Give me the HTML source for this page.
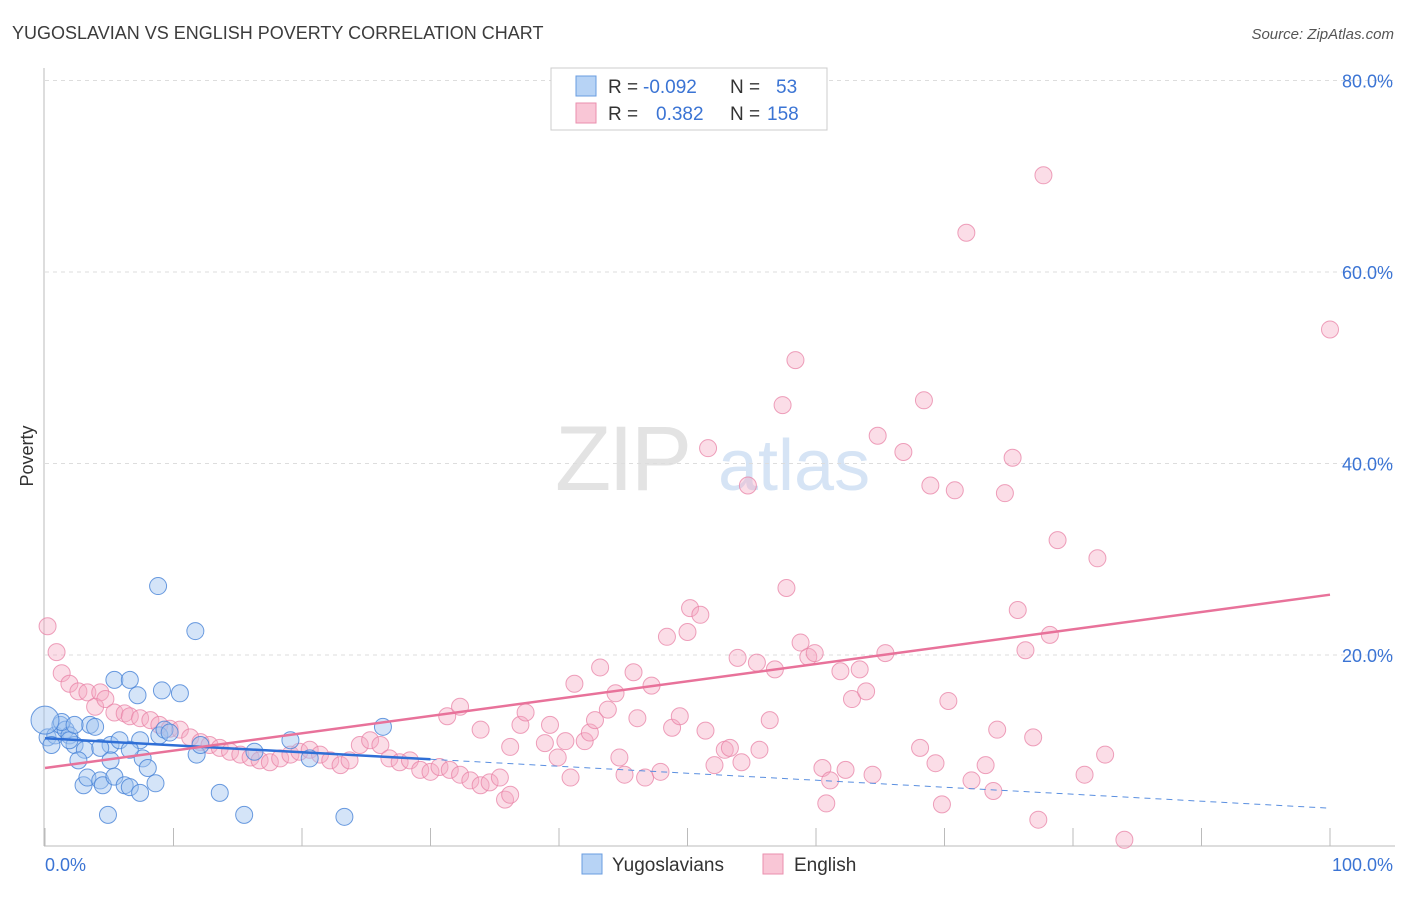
<!DOCTYPE html>
<html><head><meta charset="utf-8"><style>
body{margin:0;background:#fff;font-family:"Liberation Sans",sans-serif;}
svg text{font-family:"Liberation Sans",sans-serif;}
</style></head><body>
<svg width="1406" height="892" viewBox="0 0 1406 892" xmlns="http://www.w3.org/2000/svg">
<text x="12" y="39" font-size="18" fill="#3c3c3c">YUGOSLAVIAN VS ENGLISH POVERTY CORRELATION CHART</text>
<text x="1394" y="39" font-size="15" fill="#555" text-anchor="end" font-style="italic">Source: ZipAtlas.com</text>
<g>
<text x="555" y="490" font-size="92" fill="#e3e3e3" font-family="Liberation Serif" letter-spacing="-3">ZIP</text>
<text x="718" y="490" font-size="72" fill="#d6e4f5">atlas</text>
</g>
<g id="grid"></g>
<g id="axes"></g>
<g id="marks"></g>
<g id="trends"></g>
<text transform="translate(33,456) rotate(-90)" font-size="18" fill="#333" text-anchor="middle">Poverty</text>
<g>
<rect x="551" y="68" width="276" height="62" fill="#fff" stroke="#ccc"/>
<rect x="576" y="76" width="20" height="20" fill="#b7d3f5" stroke="#6a9de0"/>
<rect x="576" y="103" width="20" height="20" fill="#f9c6d6" stroke="#ea8fae"/>
<text x="608" y="93" font-size="19" fill="#333">R = </text><text x="643" y="93" font-size="19" fill="#3b74d4">-0.092</text>
<text x="730" y="93" font-size="19" fill="#333">N = </text><text x="776" y="93" font-size="19" fill="#3b74d4">53</text>
<text x="608" y="120" font-size="19" fill="#333">R = </text><text x="656" y="120" font-size="19" fill="#3b74d4">0.382</text>
<text x="730" y="120" font-size="19" fill="#333">N = </text><text x="767" y="120" font-size="19" fill="#3b74d4">158</text>
</g>
<g>
<rect x="582" y="854" width="20" height="20" fill="#b7d3f5" stroke="#6a9de0"/>
<text x="612" y="871" font-size="19" fill="#333">Yugoslavians</text>
<rect x="763" y="854" width="20" height="20" fill="#f9c6d6" stroke="#ea8fae"/>
<text x="794" y="871" font-size="19" fill="#333">English</text>
</g>
</svg>
<script>
const xTicks=[0,100];
const yTicks=[20,40,60,80];
const blueX=[8.8,11.7,5.4,6.6,7.2,10.5,9.1,0.2,0.8,1.2,1.6,1.9,1.3,3.5,3.9,2.3,3.1,5.1,5.8,4.3,7.4,8.9,9.3,2.6,5.1,7.6,8.0,3.0,3.3,4.3,4.5,5.4,6.2,6.6,7.4,8.6,4.9,13.6,15.5,23.3,20.6,26.3,11.8,9.7,0,0.5,1.9,6.6,2.3,12.1,16.3,19.1];
const blueY=[27.2,22.5,17.4,17.4,15.8,16.0,16.3,11.4,11.6,12.7,12.2,11.6,13.0,12.7,12.5,10.6,10.1,10.6,11.1,10.3,11.1,11.6,12.2,9.0,9.0,9.2,8.2,6.4,7.2,6.9,6.4,7.3,6.4,6.2,5.6,6.6,3.3,5.6,3.3,3.1,9.2,12.5,9.6,11.9,13.2,10.6,11.1,10.1,12.7,10.6,9.9,11.1];
const pinkX=[0.2,0.9,1.3,1.9,2.6,3.3,4.3,3.9,4.7,5.4,6.2,6.6,7.4,8.2,8.9,9.7,10.5,11.3,12.1,12.8,13.6,14.4,15.2,16.0,16.7,17.5,18.3,19.1,19.8,20.6,21.4,22.2,23.0,23.7,24.5,25.3,26.1,26.8,27.6,28.4,29.2,30.0,30.7,31.5,32.3,33.1,33.9,34.6,35.4,35.8,36.2,37.0,37.4,31.3,32.3,33.9,36.2,38.9,39.3,39.9,40.5,40.9,41.2,42.0,42.4,42.8,43.2,43.8,44.4,44.7,45.1,45.8,46.1,46.7,47.2,47.9,48.4,48.8,49.4,50.0,50.2,51.0,51.4,51.6,52.1,52.9,53.3,53.9,54.2,54.7,55.4,55.6,56.4,56.8,57.4,57.7,58.4,58.8,59.4,59.9,60.5,60.8,61.1,61.9,62.3,62.8,63.4,63.9,64.4,64.8,65.4,66.8,68.1,68.4,68.9,69.3,69.8,70.3,70.8,71.7,72.1,73.2,73.8,74.1,74.7,75.3,75.7,76.3,76.9,77.3,77.7,78.2,78.8,80.9,81.9,82.5,84.0,100];
const pinkY=[23.0,20.3,18.1,17.0,16.2,16.1,16.1,14.6,15.4,14.0,13.9,13.6,13.4,13.2,12.7,12.3,12.2,11.4,10.9,10.6,10.3,9.9,9.6,9.3,9.0,8.8,9.2,9.6,9.9,10.1,9.6,9.0,8.5,9.0,10.6,11.1,10.6,9.2,8.8,9.0,8.0,7.8,8.3,8.0,7.5,6.9,6.4,6.7,7.2,4.9,5.4,12.7,14.0,13.6,14.6,12.2,10.4,10.8,12.7,9.3,11.0,7.2,17.0,11.0,11.9,13.2,18.7,14.3,16.0,9.3,7.5,18.2,13.4,7.2,16.8,7.8,21.9,12.4,13.6,22.4,24.9,24.2,12.1,41.6,8.5,10.1,10.3,19.7,8.8,37.7,19.2,10.1,13.2,18.5,46.1,27.0,50.8,21.3,19.8,20.2,8.2,4.5,6.9,18.3,8.0,15.4,18.5,16.2,7.5,42.9,20.2,41.2,10.3,46.6,37.7,8.7,4.4,15.2,37.2,64.1,6.9,8.5,5.8,12.2,36.9,40.6,24.7,20.5,11.4,2.8,70.1,22.1,32.0,7.5,30.1,9.6,0.7,54.0];
const blueTrend=[11.3,4.0];
const pinkTrend=[8.2,26.3];
const blueSolidEnd=30;

const NS="http://www.w3.org/2000/svg";
const X=v=>45+v*12.85, Y=v=>846.5-v*9.575;
function mk(t,a,p){const e=document.createElementNS(NS,t);for(const k in a)e.setAttribute(k,a[k]);p.appendChild(e);return e;}
const grid=document.getElementById('grid'),axes=document.getElementById('axes'),marks=document.getElementById('marks'),trends=document.getElementById('trends');
yTicks.forEach(t=>{
 const l=mk('line',{x1:45,x2:1395,y1:Y(t),y2:Y(t),stroke:'#ddd','stroke-dasharray':'4,4'},grid);
 
 
 const tx=mk('text',{x:1393,y:Y(t)+7,'font-size':18,fill:'#3b74d4','text-anchor':'end'},axes);
 tx.textContent=t.toFixed(1)+'%';
 
 
});
mk('line',{x1:44,x2:44,y1:68,y2:846,stroke:'#bbb'},axes);
mk('line',{x1:44,x2:1395,y1:846,y2:846,stroke:'#bbb'},axes);
for(let i=0;i<=10;i++){mk('line',{x1:X(i*10),x2:X(i*10),y1:828,y2:846,stroke:'#bbb'},axes);}
xTicks.forEach((t,i)=>{
 const tx=mk('text',{x:i?1393:45,y:871,'font-size':18,fill:'#3b74d4','text-anchor':i?'end':'start'},axes);
 tx.textContent=t.toFixed(1)+'%';
 
 
});
pinkX.forEach((x,i)=>{
 const c=mk('circle',{cx:X(x),cy:Y(pinkY[i]),r:8.5,fill:'rgba(246,170,196,0.4)',stroke:'rgba(232,130,165,0.75)','stroke-width':1},marks);
 
 
});
blueX.forEach((x,i)=>{
 const c=mk('circle',{cx:X(x),cy:Y(blueY[i]),r:i===44?14:8.5,fill:'rgba(160,196,240,0.45)',stroke:'rgba(70,130,215,0.8)','stroke-width':1},marks);
 
 
});
const by=x=>blueTrend[0]+(blueTrend[1]-blueTrend[0])*x/100;
const b1=mk('line',{x1:X(0),y1:Y(by(0)),x2:X(blueSolidEnd),y2:Y(by(blueSolidEnd)),stroke:'#2f6fd6','stroke-width':2.5},trends);


const b2=mk('line',{x1:X(blueSolidEnd),y1:Y(by(blueSolidEnd)),x2:X(100),y2:Y(by(100)),stroke:'#5a8fe0','stroke-width':1,'stroke-dasharray':'6,5'},trends);


const p1=mk('line',{x1:X(0),y1:Y(pinkTrend[0]),x2:X(100),y2:Y(pinkTrend[1]),stroke:'#e8729a','stroke-width':2.5},trends);


</script>
</body></html>
